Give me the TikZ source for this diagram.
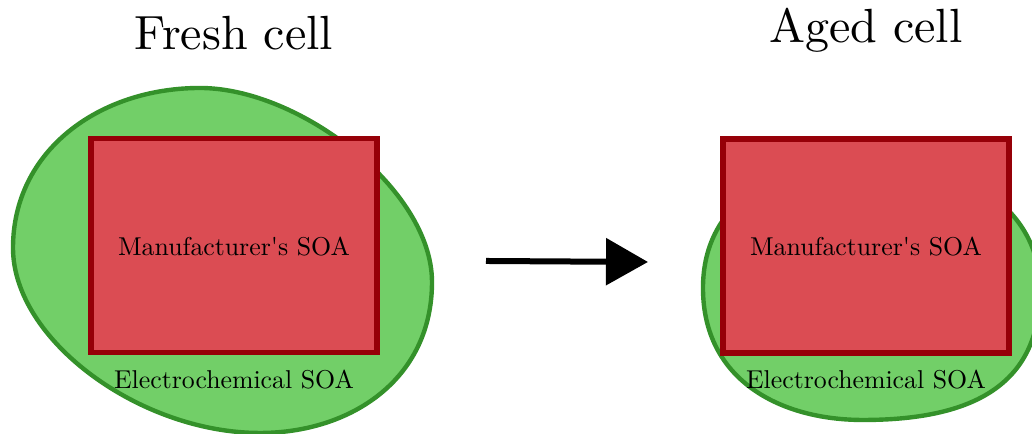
\documentclass[tikz,border=0pt]{standalone}
\usepackage{graphicx}
\usetikzlibrary{arrows.meta}
\definecolor{soagreen}{RGB}{114,207,104}
\definecolor{soagreenline}{RGB}{52,145,42}
\definecolor{soared}{RGB}{219,76,83}
\definecolor{soaredline}{RGB}{150,0,8}
\newcommand{\soatext}[1]{\scalebox{0.645}{#1}}
\newcommand{\titletext}[1]{\scalebox{1.2}{#1}}
\tikzset{
  blob/.style={fill=soagreen, draw=soagreenline, line width=1.1pt},
  soabox/.style={rectangle, fill=soared, draw=soaredline, line width=1.3pt,
    minimum width=71.5pt, minimum height=53.5pt, inner sep=0pt},
  soalabel/.style={inner sep=0pt},
  title/.style={inner sep=0pt},
  bigarrow/.style={line width=1.5pt, -{Triangle[length=10.5pt, width=11.5pt]}}
}
\begin{document}
\begin{tikzpicture}[x=0.25pt, y=-0.25pt]
  \useasboundingbox (0,0) rectangle (1032,434);

  % fresh cell: wide electrochemical region
  \draw[blob] (13,248) .. controls (13,150) and (100,88) .. (200,88)
    .. controls (300,88) and (432,190) .. (432,282)
    .. controls (432,380) and (350,433) .. (260,433)
    .. controls (140,433) and (13,340) .. (13,248) -- cycle;
  \node[soabox] (fman) at (234,245.5) {};
  \node[soalabel] at (234,247) {\soatext{Manufacturer\textquotesingle s SOA}};
  \node[soalabel] (fel) at (234,380) {\soatext{Electrochemical SOA}};
  \node[title] (ftitle) at (234,33) {\titletext{Fresh cell}};

  % ageing arrow
  \coordinate (arrstart) at (486,261);
  \coordinate (arrend) at (648,262);
  \draw[bigarrow] (arrstart) -- (arrend);

  % aged cell: shrunken electrochemical region
  \draw[blob] (703,288) .. controls (703,380) and (780,420) .. (863,420)
    .. controls (980,420) and (1040,380) .. (1040,290)
    .. controls (1040,200) and (950,160) .. (870,160)
    .. controls (780,160) and (703,200) .. (703,288) -- cycle;
  \node[soabox] (aman) at (866,246) {};
  \node[soalabel] at (866,247) {\soatext{Manufacturer\textquotesingle s SOA}};
  \node[soalabel] (ael) at (866,380) {\soatext{Electrochemical SOA}};
  \node[title] (atitle) at (866,30) {\titletext{Aged cell}};
\end{tikzpicture}
\end{document}
